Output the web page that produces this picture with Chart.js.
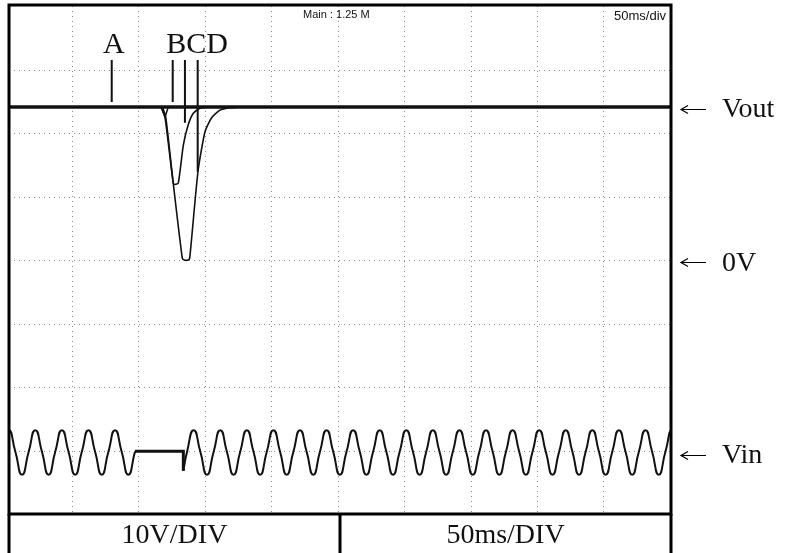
<!DOCTYPE html>
<html lang="en">
<head>
<meta charset="UTF-8">
<title>Vout / Vin scope capture</title>
<script src="https://cdn.jsdelivr.net/npm/chart.js"></script>
<style>
  body { margin: 0; background: #fff; }
  #scope { display: block; }
</style>
</head>
<body>
<canvas id="scope" width="786" height="553"></canvas>
<script>
// time in ms (50 ms/div), voltage in V (10 V/div), 0 V at the screen centre
const xGrid = [50, 100, 150, 200, 250, 300, 350, 400, 450];
const yGrid = [-30, -20, -10, 0, 10, 20, 30];

// Vout: flat level plus the three overlaid dips (switching at B, C, D)
const voutBaseTime = [0, 505];
const voutBaseVolt = [24.1, 24.1];
const blipTime = [117.0, 120.0, 122.2];
const blipVolt = [24.1, 22.5, 23.9];
const dipBTime = [117.2, 120.0, 126.2, 127.5, 130.0, 133.8, 137.5, 141.3, 146.3, 154.0];
const dipBVolt = [24.1, 22.5, 12.1, 11.9, 12.1, 18.1, 21.3, 23.1, 23.9, 24.1];
const dipCTime = [118.0, 120.5, 126.2, 133.0, 134.5, 137.5, 138.6, 144.8, 150.1, 155.1, 161.4, 168.9, 176.4];
const dipCVolt = [24.1, 22.6, 12.1, 0.3, 0.0, 0.0, 0.3, 13.9, 20.2, 22.4, 23.6, 24.0, 24.1];

// cursor marks A B C D
const markTimes = [79.9, 125.8, 135.0, 144.6];
const markTop = [31.5, 31.5, 31.5, 31.5];
const markBottom = [24.9, 24.9, 21.6, 13.9];

// Vin: 50 Hz sine, dropped out between ~97 ms and ~134 ms
const vinTimeA = [-2.6, 2.4, 7.4, 12.4, 17.4, 22.4, 27.4, 32.4, 37.4, 42.4, 47.4,
  52.4, 57.4, 62.4, 67.4, 72.4, 77.4, 82.4, 87.4, 92.4, 97.4];
const vinVoltA = [-30.2,
  -26.8, -30.2, -33.8, -30.2, -26.8, -30.2, -33.8, -30.2,
  -26.8, -30.2, -33.8, -30.2, -26.8, -30.2, -33.8, -30.2,
  -26.8, -30.2, -33.8, -30.2];
const vinGapTime = [97.4, 133.8, 133.8];
const vinGapVolt = [-30.1, -30.1, -33.2];
const vinTimeB = [133.8, 136.6,
  141.6, 146.6, 151.6, 156.6, 161.6, 166.6, 171.6, 176.6,
  181.6, 186.6, 191.6, 196.6, 201.6, 206.6, 211.6, 216.6,
  221.6, 226.6, 231.6, 236.6, 241.6, 246.6, 251.6, 256.6,
  261.6, 266.6, 271.6, 276.6, 281.6, 286.6, 291.6, 296.6,
  301.6, 306.6, 311.6, 316.6, 321.6, 326.6, 331.6, 336.6,
  341.6, 346.6, 351.6, 356.6, 361.6, 366.6, 371.6, 376.6,
  381.6, 386.6, 391.6, 396.6, 401.6, 406.6, 411.6, 416.6,
  421.6, 426.6, 431.6, 436.6, 441.6, 446.6, 451.6, 456.6,
  461.6, 466.6, 471.6, 476.6, 481.6, 486.6, 491.6, 496.6,
  501.6, 506.6];
const vinVoltB = [-33.2, -30.2,
  -26.8, -30.2, -33.8, -30.2, -26.8, -30.2, -33.8, -30.2,
  -26.8, -30.2, -33.8, -30.2, -26.8, -30.2, -33.8, -30.2,
  -26.8, -30.2, -33.8, -30.2, -26.8, -30.2, -33.8, -30.2,
  -26.8, -30.2, -33.8, -30.2, -26.8, -30.2, -33.8, -30.2,
  -26.8, -30.2, -33.8, -30.2, -26.8, -30.2, -33.8, -30.2,
  -26.8, -30.2, -33.8, -30.2, -26.8, -30.2, -33.8, -30.2,
  -26.8, -30.2, -33.8, -30.2, -26.8, -30.2, -33.8, -30.2,
  -26.8, -30.2, -33.8, -30.2, -26.8, -30.2, -33.8, -30.2,
  -26.8, -30.2, -33.8, -30.2, -26.8, -30.2, -33.8, -30.2,
  -26.8, -30.2];

const serif = '"Liberation Serif", "Times New Roman", serif';
const sans = '"Liberation Sans", Arial, sans-serif';

function pts(xs, ys) {
  return xs.map((x, i) => ({ x: x, y: ys[i] }));
}

function trace(xs, ys, width, tension) {
  return {
    data: pts(xs, ys),
    borderColor: '#111',
    borderWidth: width,
    tension: tension,
    pointRadius: 0,
    fill: false
  };
}

const datasets = [
  trace(voutBaseTime, voutBaseVolt, 3.5, 0),
  trace(blipTime, blipVolt, 1.5, 0),
  trace(dipBTime, dipBVolt, 1.6, 0.2),
  trace(dipCTime, dipCVolt, 1.6, 0.2),
  trace(vinTimeA, vinVoltA, 2, 0.6),
  trace(vinGapTime, vinGapVolt, 3, 0),
  trace(vinTimeB, vinVoltB, 2, 0.6)
];
markTimes.forEach((t, i) => {
  datasets.push(trace([t, t], [markTop[i], markBottom[i]], 2, 0));
});

// dotted graticule, frame, bottom table and the text around the screen
const scopeDecor = {
  id: 'scopeDecor',
  beforeDatasetsDraw(chart) {
    const { ctx, chartArea: a, scales: { x, y } } = chart;
    ctx.save();
    ctx.strokeStyle = '#8c8c8c';
    ctx.lineWidth = 1;
    ctx.setLineDash([1, 4]);
    xGrid.forEach(v => {
      const px = Math.round(x.getPixelForValue(v)) + 0.5;
      ctx.beginPath();
      ctx.moveTo(px, a.top);
      ctx.lineTo(px, a.bottom);
      ctx.stroke();
    });
    yGrid.forEach(v => {
      const py = Math.round(y.getPixelForValue(v)) + 0.5;
      ctx.beginPath();
      ctx.moveTo(a.left, py);
      ctx.lineTo(a.right, py);
      ctx.stroke();
    });
    ctx.restore();
  },
  afterDraw(chart) {
    const { ctx, chartArea: a, scales: { x, y } } = chart;
    const h = chart.height;
    ctx.save();
    ctx.fillStyle = '#111';

    // small screen readouts
    ctx.textBaseline = 'middle';
    ctx.textAlign = 'left';
    ctx.font = '11px ' + sans;
    ctx.fillText('Main : 1.25 M', 303, 15);
    ctx.font = '13px ' + sans;
    ctx.fillText('50ms/div', 614, 16);

    // frame and table
    ctx.strokeStyle = '#000';
    ctx.lineWidth = 3;
    ctx.strokeRect(a.left, a.top - 1, a.right - a.left, a.bottom - a.top + 1);
    const mid = (a.left + a.right) / 2;
    ctx.beginPath();
    [a.left, mid, a.right].forEach(px => {
      ctx.moveTo(px, a.bottom);
      ctx.lineTo(px, h);
    });
    ctx.stroke();

    ctx.font = '28px ' + serif;
    ctx.textAlign = 'center';
    ctx.textBaseline = 'alphabetic';
    ctx.fillText('10V/DIV', (a.left + mid) / 2, 543);
    ctx.fillText('50ms/DIV', (mid + a.right) / 2, 543);

    // cursor letters
    ctx.font = '30px ' + serif;
    ctx.fillText('A', x.getPixelForValue(81.5), 53);
    ctx.fillText('BCD', x.getPixelForValue(144.2), 53);

    // trace labels on the right, each with a long thin left arrow
    ctx.textAlign = 'left';
    ctx.textBaseline = 'middle';
    ctx.font = '28px ' + serif;
    ctx.lineWidth = 1.2;
    [['Vout', 23.6], ['0V', -0.5], ['Vin', -30.8]].forEach(([txt, v]) => {
      const py = y.getPixelForValue(v);
      const x0 = a.right + 10;
      const ay = Math.round(py) - 0.5;
      ctx.beginPath();
      ctx.moveTo(x0 + 25, ay);
      ctx.lineTo(x0, ay);
      ctx.moveTo(x0 + 7, ay - 4);
      ctx.lineTo(x0, ay);
      ctx.lineTo(x0 + 7, ay + 4);
      ctx.stroke();
      ctx.fillText(txt, a.right + 51, py);
    });
    ctx.restore();
  }
};

new Chart(document.getElementById('scope'), {
  type: 'line',
  data: { datasets: datasets },
  options: {
    responsive: false,
    animation: false,
    layout: { padding: { left: 9, top: 6, right: 115, bottom: 39 } },
    plugins: { legend: { display: false }, tooltip: { enabled: false } },
    scales: {
      x: { type: 'linear', min: 2.6, max: 500.8, display: false },
      y: { min: -40, max: 40, display: false }
    }
  },
  plugins: [scopeDecor]
});
</script>
</body>
</html>
